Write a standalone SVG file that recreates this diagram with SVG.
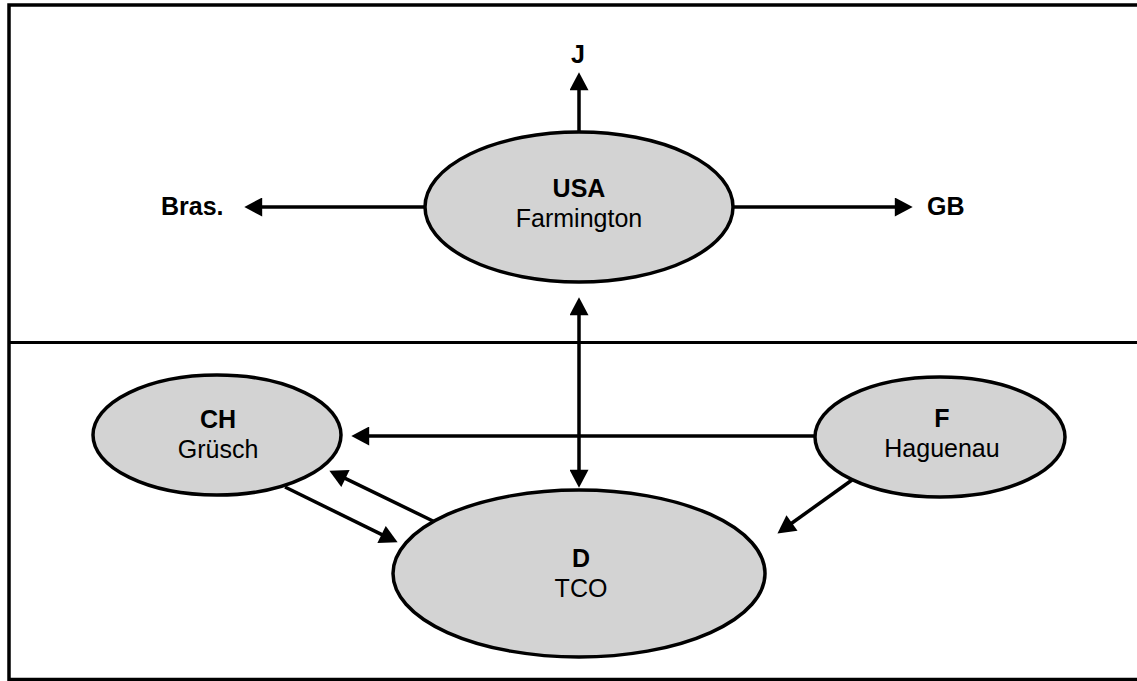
<svg xmlns="http://www.w3.org/2000/svg" width="1137" height="681" viewBox="0 0 1137 681">
<style>
.node ellipse{fill:#d3d3d3;stroke:#000;stroke-width:3.5}
.b{font-family:"Liberation Sans",Arial,sans-serif;font-weight:bold;font-size:25px;fill:#000;text-anchor:middle}
.r{font-family:"Liberation Sans",Arial,sans-serif;font-size:25px;fill:#000;text-anchor:middle}
.lbl{font-family:"Liberation Sans",Arial,sans-serif;font-weight:bold;font-size:25px;fill:#000}
#connectors line{stroke:#000;stroke-width:3.5;fill:none}
</style>
<defs>
<marker id="ah" markerUnits="userSpaceOnUse" markerWidth="19" markerHeight="19" viewBox="0 0 16 17" refX="10" refY="8.5" orient="auto-start-reverse">
<path d="M0,0 L16,8.5 L0,17 z" fill="#000"/>
</marker>
</defs>
<rect width="1137" height="681" fill="#fff"/>
<g id="frame">
<path d="M1140,5 L9,5 L9,679.5 L1140,679.5" fill="none" stroke="#000" stroke-width="3.5"/>
<line x1="9" y1="342.5" x2="1137" y2="342.5" stroke="#000" stroke-width="3"/>
</g>
<g id="connectors">
<line x1="579" y1="132" x2="579" y2="79" marker-end="url(#ah)"/>
<line x1="425" y1="207" x2="251" y2="207" marker-end="url(#ah)"/>
<line x1="733" y1="207" x2="906" y2="207" marker-end="url(#ah)"/>
<line x1="579" y1="304" x2="579" y2="481" marker-start="url(#ah)" marker-end="url(#ah)"/>
<line x1="815" y1="436" x2="358" y2="436" marker-end="url(#ah)"/>
<line x1="435" y1="522" x2="335.4" y2="473.6" marker-end="url(#ah)"/>
<line x1="285" y1="487" x2="391.6" y2="539.4" marker-end="url(#ah)"/>
<line x1="852" y1="480" x2="782.9" y2="529.5" marker-end="url(#ah)"/>
</g>
<g id="label-J"><text class="b" x="578" y="63">J</text></g>
<g id="label-Bras"><text class="lbl" x="161" y="215">Bras.</text></g>
<g id="label-GB"><text class="lbl" x="927" y="215">GB</text></g>
<g id="node-USA" class="node">
<ellipse cx="579" cy="207" rx="154" ry="75"/>
<text class="b" x="579" y="197">USA</text>
<text class="r" x="579" y="227">Farmington</text>
</g>
<g id="node-CH" class="node">
<ellipse cx="217" cy="435" rx="124" ry="60"/>
<text class="b" x="218" y="428">CH</text>
<text class="r" x="218" y="458">Grüsch</text>
</g>
<g id="node-F" class="node">
<ellipse cx="940" cy="437" rx="125" ry="60"/>
<text class="b" x="942" y="427">F</text>
<text class="r" x="942" y="457">Haguenau</text>
</g>
<g id="node-D" class="node">
<ellipse cx="579" cy="573.5" rx="186" ry="83.5"/>
<text class="b" x="581" y="567">D</text>
<text class="r" x="581" y="597">TCO</text>
</g>
</svg>
